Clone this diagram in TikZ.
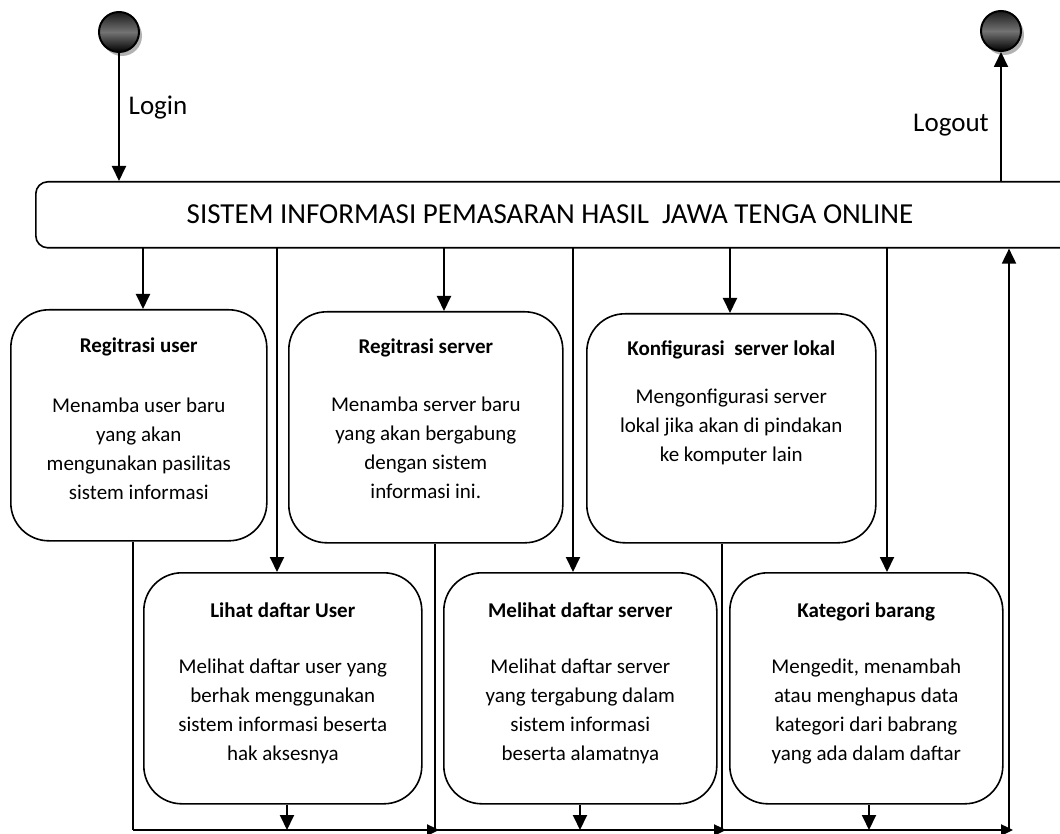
\documentclass[tikz,border=0pt]{standalone}
\usepackage{fontspec}
\setmainfont{Carlito}
\usetikzlibrary{arrows.meta}
\tikzset{
  actbox/.style={draw, line width=1.6pt, rounded corners=38pt, inner sep=0pt, anchor=north west},
  mainbox/.style={draw, line width=1.6pt, rounded corners=12pt, inner sep=0pt, anchor=north west},
  ttl/.style={font=\fontsize{21}{25}\selectfont\bfseries, inner sep=0pt},
  body/.style={font=\fontsize{21}{29}\selectfont, align=center, anchor=north, inner sep=0pt},
  lbl/.style={font=\fontsize{27}{32}\selectfont, inner sep=0pt},
  dot/.style={circle, draw, line width=2pt, minimum size=40pt, inner sep=0pt,
    top color=black!90, bottom color=black, middle color=black!55},
  arr/.style={-{Triangle[length=15pt,width=14pt]}, line width=1.9pt},
  harr/.style={-{Triangle[length=12pt,width=11pt]}, line width=2.4pt},
  ln/.style={line width=1.9pt}
}
\begin{document}
\begin{tikzpicture}[x=1pt,y=-1pt]
\clip (0,0) rectangle (1060,834);
\fill[white] (0,0) rectangle (1060,834);

% start / end dots
\fill[black!30] (122,36) circle (20);
\node[dot] (s1) at (119,32) {};
\fill[black!30] (1004,35) circle (20);
\node[dot] (e1) at (1001,31) {};

% main box
\node[mainbox, minimum width=1070pt, minimum height=66pt] (main) at (35,181) {};
\node[font=\fontsize{29}{34}\selectfont, inner sep=0pt] (title) at (550,214) {SISTEM INFORMASI PEMASARAN HASIL\ \ JAWA TENGA ONLINE};

% login / logout
\draw[arr] (s1.south) -- (s1 |- main.north);
\node[lbl] (login) at (158,108) {Login};
\draw[arr] (main.north -| e1) -- (e1.south);
\node[lbl] (logout) at (951,125) {Logout};

% activity boxes
\node[actbox, minimum width=256pt, minimum height=231pt] (b1) at (10,309) {};
\node[actbox, minimum width=274pt, minimum height=231pt] (b2) at (288,311) {};
\node[actbox, minimum width=289pt, minimum height=229pt] (b3) at (586,313) {};
\node[actbox, minimum width=278pt, minimum height=231pt] (b4) at (143,572) {};
\node[actbox, minimum width=273pt, minimum height=231pt] (b5) at (443,572) {};
\node[actbox, minimum width=273pt, minimum height=231pt] (b6) at (729,572) {};

\node[ttl] (t1) at ([yshift=-38pt]b1.north) {Regitrasi user};
\node[body] (d1) at ([yshift=-89pt]b1.north) {Menamba user baru\\yang akan\\mengunakan pasilitas\\sistem informasi};
\node[ttl] (t2) at ([yshift=-37pt]b2.north) {Regitrasi server};
\node[body] (d2) at ([yshift=-86pt]b2.north) {Menamba server baru\\yang akan bergabung\\dengan sistem\\informasi ini.};
\node[ttl] (t3) at ([yshift=-37pt]b3.north) {Konfigurasi\ \ server lokal};
\node[body] (d3) at ([yshift=-76pt]b3.north) {Mengonfigurasi server\\lokal jika akan di pindakan\\ke komputer lain};
\node[ttl] (t4) at ([yshift=-38pt]b4.north) {Lihat daftar User};
\node[body] (d4) at ([yshift=-87pt]b4.north) {Melihat daftar user yang\\berhak menggunakan\\sistem informasi beserta\\hak aksesnya};
\node[ttl] (t5) at ([yshift=-38pt]b5.north) {Melihat daftar server};
\node[body] (d5) at ([yshift=-87pt]b5.north) {Melihat daftar server\\yang tergabung dalam\\sistem informasi\\beserta alamatnya};
\node[ttl] (t6) at ([yshift=-40pt]b6.north) {Kategori barang};
\node[body] (d6) at ([yshift=-87pt]b6.north) {Mengedit, menambah\\atau menghapus data\\kategori dari babrang\\yang ada dalam daftar};

% arrows from main box
\coordinate (m1) at (143,247);
\coordinate (m2) at (277,247);
\coordinate (m3) at (444,247);
\coordinate (m4) at (573,247);
\coordinate (m5) at (730,247);
\coordinate (m6) at (887,247);
\draw[arr] (m1) -- (m1 |- b1.north);
\draw[arr] (m2) -- (m2 |- b4.north);
\draw[arr] (m3) -- (m3 |- b2.north);
\draw[arr] (m4) -- (m4 |- b5.north);
\draw[arr] (m5) -- (m5 |- b3.north);
\draw[arr] (m6) -- (m6 |- b6.north);

% bottom collector
\coordinate (c1) at (133,830);
\coordinate (c2) at (435,830);
\coordinate (c3) at (722,830);
\coordinate (c4) at (1009,830);
\draw[ln] (b1.south -| c1) -- (c1);
\draw[ln] (b2.south -| c2) -- (c2);
\draw[ln] (b3.south -| c3) -- (c3);
\draw[harr] (c1) -- ([xshift=4pt]c2);
\draw[harr] (c2) -- ([xshift=4pt]c3);
\draw[harr] (c3) -- ([xshift=4pt]c4);
\draw[arr] (c4) -- (c4 |- main.south);

\coordinate (k4) at (287,830);
\coordinate (k5) at (580,830);
\coordinate (k6) at (869,830);
\draw[arr] (b4.south -| k4) -- (k4);
\draw[arr] (b5.south -| k5) -- (k5);
\draw[arr] (b6.south -| k6) -- (k6);
\end{tikzpicture}
\end{document}
